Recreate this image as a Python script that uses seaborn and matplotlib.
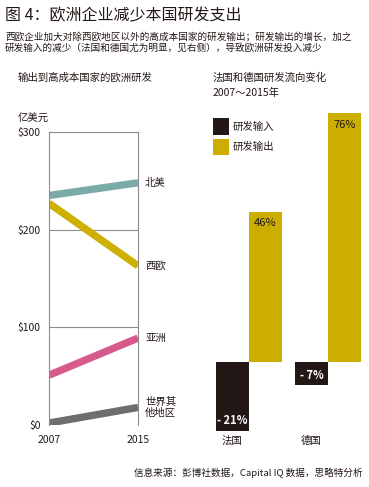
import matplotlib
matplotlib.use("Agg")
import matplotlib.pyplot as plt
import seaborn as sns
import pandas as pd
from matplotlib.patches import Rectangle

# ---------------- data ----------------
years = ["2007", "2015"]
regions = ["北美", "西欧", "亚洲", "世界其\n他地区"]
region_values = {
    "北美": [235, 248],
    "西欧": [227, 163],
    "亚洲": [51, 89],
    "世界其\n他地区": [2, 18],
}
yticks = [0, 100, 200, 300]
ytick_labels = ["$0", "$100", "$200", "$300"]

countries = ["法国", "德国"]
flow_types = ["研发输入", "研发输出"]
flow_input = [-21, -7]
flow_output = [46, 76]

# ---------------- style ----------------
sns.set_theme(style="white")
plt.rcParams["font.family"] = ["Noto Sans CJK SC", "DejaVu Sans"]

W, H = 369, 487
fig = plt.figure(figsize=(W / 100, H / 100), dpi=100)

def fx(x):
    return x / W

def fy(y):
    return 1 - y / H

TXT = "#231815"
line_colors = {"北美": "#7aaba6", "西欧": "#cdb000", "亚洲": "#d65a8b", "世界其\n他地区": "#6e6e6e"}
bar_colors = {"研发输入": "#231815", "研发输出": "#ccae00"}

# ---------------- titles ----------------
fig.text(fx(5), fy(16), "图 4：欧洲企业减少本国研发支出", fontsize=11.5, color=TXT, va="center", ha="left")
fig.text(fx(5), fy(37), "西欧企业加大对除西欧地区以外的高成本国家的研发输出；研发输出的增长，加之",
         fontsize=6.9, color=TXT, va="center", ha="left")
fig.text(fx(5), fy(48), "研发输入的减少（法国和德国尤为明显，见右侧），导致欧洲研发投入减少",
         fontsize=6.9, color=TXT, va="center", ha="left")

# ---------------- left chart ----------------
rows = []
for r in regions:
    for yr, v in zip(years, region_values[r]):
        rows.append({"年份": yr, "地区": r, "值": v})
df_lines = pd.DataFrame(rows)
df_lines["x"] = df_lines["年份"].map({years[0]: 0, years[1]: 1})

axL = fig.add_axes([fx(49), (H - 425) / H, 89 / W, 293 / H])
sns.lineplot(data=df_lines, x="x", y="值", hue="地区", hue_order=regions,
             palette=line_colors, linewidth=5.3, legend=False, ax=axL)
for ln in axL.get_lines():
    ln.set_solid_capstyle("butt")
    ln.set_clip_on(True)
axL.set_xlim(0, 1)
axL.set_ylim(0, 300)
axL.set_yticks(yticks)
axL.set_yticklabels(ytick_labels, fontsize=7.5, color=TXT)
axL.set_xticks([0, 1])
axL.set_xticklabels(years, fontsize=7.5, color=TXT)
axL.tick_params(axis="x", length=0, pad=7)
axL.tick_params(axis="y", length=0, pad=6)
axL.set_xlabel("")
axL.set_ylabel("")
for y in [100, 200]:
    axL.axhline(y, color="#8c8c8c", lw=0.8, zorder=0)
for side in ["left", "right", "top"]:
    axL.spines[side].set_visible(True)
    axL.spines[side].set_color("#8c8c8c")
    axL.spines[side].set_linewidth(0.8)
axL.spines["bottom"].set_visible(False)
axL.grid(False)

for r in regions:
    v = region_values[r][1]
    axL.text(1.08, v, r, transform=axL.transData,
             fontsize=7.5, color=TXT, va="center", ha="left", clip_on=False)

fig.text(fx(18), fy(78), "输出到高成本国家的欧洲研发", fontsize=7.5, color=TXT, va="center", ha="left")
fig.text(fx(18), fy(119), "亿美元", fontsize=7.5, color=TXT, va="center", ha="left")

# ---------------- right chart ----------------
df_bars = pd.DataFrame({
    "国家": countries * 2,
    "类型": [flow_types[0]] * 2 + [flow_types[1]] * 2,
    "值": flow_input + flow_output,
})
axR = fig.add_axes([fx(201.6), (H - 443.8) / H, 173.8 / W, 343.4 / H])
sns.barplot(data=df_bars, x="国家", y="值", hue="类型", order=countries, hue_order=flow_types,
            palette=bar_colors, width=0.84, saturation=1, legend=False, ax=axR, linewidth=0)
axR.set_xlim(-0.6, 1.6)
axR.set_ylim(-25, 80)
axR.axis("off")

for i, (vi, vo) in enumerate(zip(flow_input, flow_output)):
    axR.text(i - 0.21, vi + 3, f"- {abs(vi)}%", color="white", fontsize=8, fontweight="bold",
             ha="center", va="center")
    axR.text(i + 0.21, vo - 3.5, f"{vo}%", color=TXT, fontsize=8, ha="center", va="center")
    axR.text(i - 0.21, -24.2, countries[i], color=TXT, fontsize=7.5, ha="center", va="center")

fig.text(fx(213), fy(78), "法国和德国研发流向变化", fontsize=7.5, color=TXT, va="center", ha="left")
fig.text(fx(213), fy(93), "2007～2015年", fontsize=7.5, color=TXT, va="center", ha="left")

fig.add_artist(Rectangle((fx(213), fy(135)), 16 / W, 17 / H, transform=fig.transFigure,
                         facecolor=bar_colors["研发输入"], edgecolor="none"))
fig.add_artist(Rectangle((fx(213), fy(155)), 16 / W, 16 / H, transform=fig.transFigure,
                         facecolor=bar_colors["研发输出"], edgecolor="none"))
fig.text(fx(233), fy(127), "研发输入", fontsize=7.5, color=TXT, va="center", ha="left")
fig.text(fx(233), fy(147), "研发输出", fontsize=7.5, color=TXT, va="center", ha="left")

# ---------------- footer ----------------
fig.text(fx(363), fy(473), "信息来源：彭博社数据，Capital IQ 数据，思略特分析", fontsize=6.9,
         color=TXT, va="center", ha="right")

fig.savefig("out.png", dpi=100)
